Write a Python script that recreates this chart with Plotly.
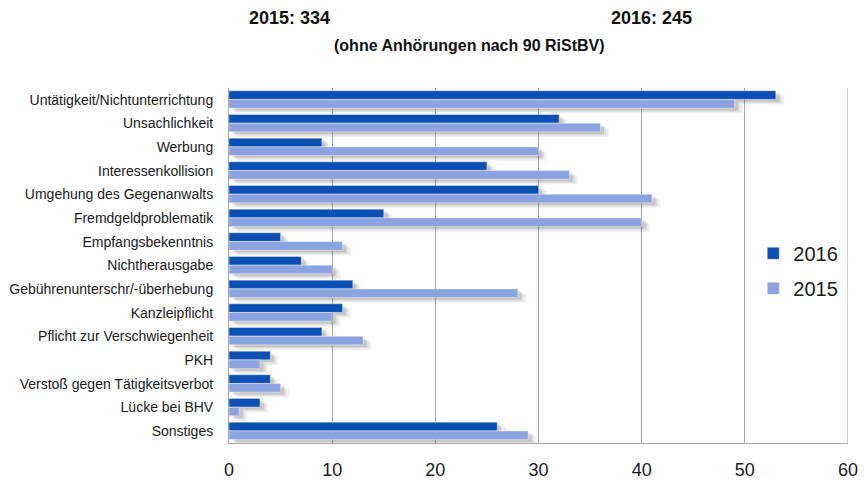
import plotly.graph_objects as go

# Beschwerdegründe und Anzahl der Verfahren je Jahr
categories = [
    "Untätigkeit/Nichtunterrichtung",
    "Unsachlichkeit",
    "Werbung",
    "Interessenkollision",
    "Umgehung des Gegenanwalts",
    "Fremdgeldproblematik",
    "Empfangsbekenntnis",
    "Nichtherausgabe",
    "Gebührenunterschr/-überhebung",
    "Kanzleipflicht",
    "Pflicht zur Verschwiegenheit",
    "PKH",
    "Verstoß gegen Tätigkeitsverbot",
    "Lücke bei BHV",
    "Sonstiges",
]
values_2016 = [53, 32, 9, 25, 30, 15, 5, 7, 12, 11, 9, 4, 4, 3, 26]
values_2015 = [49, 36, 30, 33, 41, 40, 11, 10, 28, 10, 13, 3, 5, 1, 29]
x_ticks = [0, 10, 20, 30, 40, 50, 60]

DARK = "#0a50b4"
LIGHT = "#8ba3e0"
FONT = "Liberation Sans, Arial, sans-serif"

series = [
    ("2016", values_2016, DARK, -0.38),
    ("2015", values_2015, LIGHT, -0.01),
]
BAR_W = 0.36

fig = go.Figure()

# soft drop shadows under each bar
for name, vals, color, off in series:
    for dy, dx, alpha in [(0.22, 0.8, 0.07), (0.16, 0.55, 0.10), (0.10, 0.35, 0.14)]:
        fig.add_trace(go.Bar(
            y=categories, x=vals, orientation="h",
            base=dx, offset=off + dy, width=BAR_W,
            marker=dict(color=f"rgba(60,60,60,{alpha})", line=dict(width=0)),
            showlegend=False, hoverinfo="skip",
        ))

# the bars themselves
for name, vals, color, off in series:
    fig.add_trace(go.Bar(
        y=categories, x=vals, orientation="h", name=name,
        offset=off, width=BAR_W,
        marker=dict(color=color, line=dict(color="rgba(255,255,255,0.45)", width=0.8)),
        legendgroup=name,
    ))

fig.update_layout(
    width=864, height=482,
    margin=dict(l=229, r=16, t=88, b=39, autoexpand=False),
    paper_bgcolor="white", plot_bgcolor="white",
    barmode="overlay",
    font=dict(family=FONT, color="#1a1a1a"),
    showlegend=True,
    legend=dict(
        x=0.847, y=0.485, xanchor="left", yanchor="middle",
        font=dict(size=20, color="#1a1a1a", family=FONT),
        bgcolor="rgba(0,0,0,0)", tracegroupgap=6,
        itemwidth=30,
    ),
    xaxis=dict(
        range=[0, 60], tickvals=x_ticks, ticktext=[str(t) for t in x_ticks],
        showgrid=True, gridcolor="#a8a8a8", gridwidth=1,
        zeroline=False, showline=True, linecolor="#a8a8a8", mirror=False,
        ticks="", tickfont=dict(size=18, color="#1a1a1a", family=FONT),
        ticklabelstandoff=10,
    ),
    yaxis=dict(
        type="category", range=[14.5, -0.5],
        showgrid=False, showline=True, linecolor="#a8a8a8",
        ticks="", tickfont=dict(size=14, color="#1a1a1a", family=FONT),
        ticklabelstandoff=12,
    ),
    annotations=[
        dict(text="<b>2015: 334</b>", xref="paper", yref="paper", x=0.097, y=1.197,
             xanchor="center", yanchor="middle", showarrow=False,
             font=dict(size=18, family=FONT, color="#111")),
        dict(text="<b>2016: 245</b>", xref="paper", yref="paper", x=0.683, y=1.197,
             xanchor="center", yanchor="middle", showarrow=False,
             font=dict(size=18, family=FONT, color="#111")),
        dict(text="<b>(ohne Anhörungen nach 90 RiStBV)</b>", xref="paper", yref="paper",
             x=0.389, y=1.121, xanchor="center", yanchor="middle", showarrow=False,
             font=dict(size=16, family=FONT, color="#111")),
    ],
)

# right border of the plot area at the 60 mark
fig.add_shape(type="line", xref="x", yref="paper", x0=60, x1=60, y0=0, y1=1,
              line=dict(color="#a8a8a8", width=1))

fig.write_html("out.html")
